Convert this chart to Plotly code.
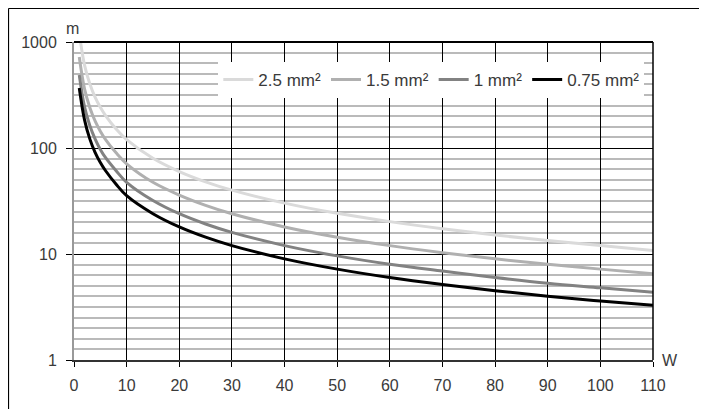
import plotly.graph_objects as go

W = [1, 2, 3, 4, 5, 6, 8, 10, 15, 20, 25, 30, 40, 50, 60, 70, 80, 90, 100, 110]
m_2_5 = [1210, 605, 403, 302, 242, 202, 151, 120, 80, 60, 48, 40, 30.2, 24.2, 20.2, 17.3, 15.1, 13.4, 12.0, 10.8]
m_1_5 = [722, 361, 241, 180, 144, 120, 90, 71, 47.5, 36, 28.8, 24, 18, 14.4, 12.0, 10.3, 9.0, 8.0, 7.2, 6.5]
m_1 = [488, 244, 163, 122, 97, 81, 61, 47.5, 32, 24, 19.2, 16, 12, 9.6, 8.0, 6.9, 6.0, 5.3, 4.8, 4.35]
m_0_75 = [368, 184, 122, 91, 73, 61, 45.5, 35.5, 24, 18, 14.4, 12, 9.0, 7.2, 6.0, 5.15, 4.5, 4.0, 3.6, 3.28]

series = [
    ("2.5 mm²", m_2_5, "#dadada"),
    ("1.5 mm²", m_1_5, "#b0b0b0"),
    ("1 mm²", m_1, "#828282"),
    ("0.75 mm²", m_0_75, "#000000"),
]

x_ticks = list(range(0, 111, 10))
y_ticks = [1, 10, 100, 1000]
minor_vals = [10 ** (d + i / 10) for d in range(3) for i in range(1, 10)]

fig = go.Figure()
for name, vals, col in series:
    fig.add_trace(go.Scatter(x=W, y=vals, mode="lines", name=name,
                             line=dict(color=col, width=3, shape="spline", smoothing=1.0)))

FAM = "Liberation Sans, Arial, sans-serif"
font = dict(family=FAM, size=16, color="#3a3a3a")
legfont = dict(family=FAM, size=17, color="#3a3a3a")

L, R, T, B = 66, 62, 34, 57
PW, PH = 707 - L - R, 409 - T - B

fig.update_layout(
    width=707, height=409,
    margin=dict(l=L, r=R, t=T, b=B),
    paper_bgcolor="white", plot_bgcolor="white",
    font=font,
    showlegend=True,
    legend=dict(orientation="h", x=0.985, xanchor="right", y=0.937, yanchor="top",
                bgcolor="white", borderwidth=0, font=legfont,
                itemwidth=30, tracegroupgap=0, traceorder="normal"),
    xaxis=dict(range=[0, 110], tickvals=x_ticks, ticktext=[str(v) for v in x_ticks],
               showgrid=True, gridcolor="#000000", gridwidth=1,
               ticks="outside", ticklen=5, tickcolor="#000000",
               showline=True, linecolor="#333333", linewidth=2,
               zeroline=False, mirror=False, ticklabelstandoff=5),
    yaxis=dict(type="log", range=[0, 3], tickvals=y_ticks, ticktext=[str(v) for v in y_ticks],
               showgrid=True, gridcolor="#000000", gridwidth=1,
               ticks="outside", ticklen=6, tickcolor="#000000",
               showline=True, linecolor="#999999", linewidth=2, zeroline=False,
               ticklabelstandoff=6,
               minor=dict(tickmode="array", tickvals=minor_vals, showgrid=True,
                          gridcolor="#bababa", gridwidth=1.5, ticks="")),
)

# right edge of plot area and top line
fig.add_shape(type="line", xref="paper", yref="paper", x0=1, x1=1, y0=0, y1=1,
              line=dict(color="#000000", width=1.5), layer="above")
fig.add_shape(type="line", xref="paper", yref="paper", x0=0, x1=1, y0=1, y1=1,
              line=dict(color="#000000", width=2), layer="above")

# outer frame of the figure (top and left edges visible)
fx0 = -(L - 0.5) / PW
fy1 = 1 + (T - 0.5) / PH
fig.add_shape(type="line", xref="paper", yref="paper", x0=fx0, x1=1 + (R + 5) / PW, y0=fy1, y1=fy1,
              line=dict(color="#000000", width=1.2))
fig.add_shape(type="line", xref="paper", yref="paper", x0=fx0, x1=fx0, y0=fy1, y1=-(B + 5) / PH,
              line=dict(color="#000000", width=1.2))

fig.add_annotation(text="m", xref="paper", yref="paper", x=-2 / PW, y=1 + 14 / PH,
                   xanchor="center", yanchor="middle", showarrow=False, font=font)
fig.add_annotation(text="W", xref="paper", yref="paper", x=1 + 17 / PW, y=0,
                   xanchor="center", yanchor="middle", showarrow=False, font=font)

fig.write_html("out.html")
